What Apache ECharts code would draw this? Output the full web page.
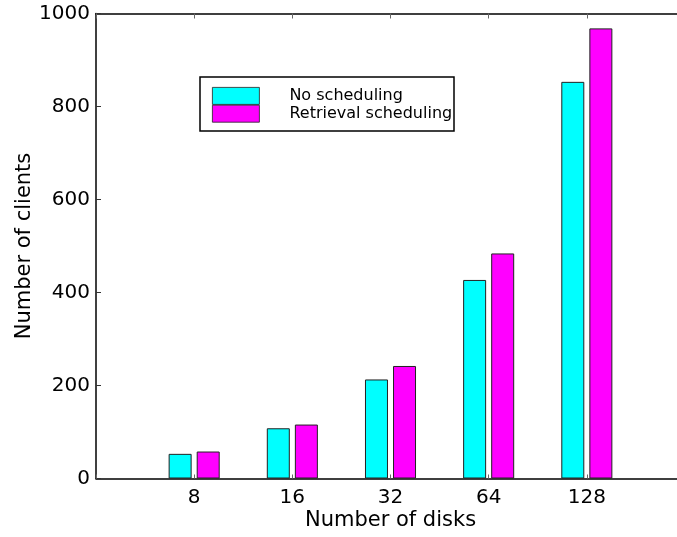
<!DOCTYPE html>
<html>
<head>
<meta charset="utf-8">
<script src="https://cdn.jsdelivr.net/npm/echarts@6/dist/echarts.min.js"></script>
<style>
html,body{margin:0;padding:0;background:#fff;}
#chart{width:677px;height:537px;}
</style>
</head>
<body>
<div id="chart"></div>
<script>
// Data
const diskLabels = ['8', '16', '32', '64', '128'];
const noScheduling = [53, 108, 213, 427, 853];
const retrievalScheduling = [58, 116, 242, 484, 968];
const seriesNames = ['No scheduling', 'Retrieval scheduling'];
const yTicks = [0, 200, 400, 600, 800, 1000];

const FONT = 'DejaVu Sans';
const chart = echarts.init(document.getElementById('chart'), null, {renderer: 'canvas'});

function toPoints(arr) {
  return arr.map((v, i) => [i + 1, v]);
}

const xLabelFormatter = v => {
  const idx = Math.round(v) - 1;
  return (idx >= 0 && idx < diskLabels.length) ? diskLabels[idx] : '';
};

const option = {
  animation: false,
  backgroundColor: '#fff',
  grid: {left: 96, top: 13.5, width: 589, height: 465, containLabel: false, outerBoundsMode: 'none'},
  graphic: [{
    type: 'rect',
    z: 10,
    shape: {x: 200, y: 77, width: 254, height: 54},
    style: {fill: '#fff', stroke: '#000', lineWidth: 1.5}
  }],
  legend: {
    orient: 'vertical',
    left: 212,
    top: 87,
    padding: 0,
    itemGap: 0,
    itemWidth: 47,
    itemHeight: 17,
    icon: 'rect',
    z: 20,
    selectedMode: false,
    data: seriesNames,
    itemStyle: {borderWidth: 0.8},
    textStyle: {fontFamily: FONT, fontSize: 16, color: '#000', padding: [0, 0, 0, 25]}
  },
  xAxis: [{
    type: 'value',
    min: 0, max: diskLabels.length + 1, interval: 1,
    position: 'bottom',
    name: 'Number of disks',
    nameLocation: 'middle',
    nameGap: 32,
    nameMoveOverlap: false,
    nameTextStyle: {fontFamily: FONT, fontSize: 21, color: '#000', verticalAlign: 'top'},
    axisLine: {show: true, lineStyle: {color: '#000', width: 1.5}},
    axisTick: {show: true, inside: true, length: 4, lineStyle: {color: '#666', width: 1}},
    axisLabel: {fontFamily: FONT, fontSize: 20, color: '#000', margin: 9, formatter: xLabelFormatter},
    splitLine: {show: false}
  }, {
    type: 'value',
    min: 0, max: diskLabels.length + 1, interval: 1,
    position: 'top',
    axisLine: {show: true, lineStyle: {color: '#000', width: 1.5}},
    axisTick: {show: true, inside: true, length: 5, lineStyle: {color: '#666', width: 1}},
    axisLabel: {show: false},
    splitLine: {show: false}
  }],
  yAxis: {
    type: 'value',
    min: yTicks[0], max: yTicks[yTicks.length - 1], interval: yTicks[1] - yTicks[0],
    name: 'Number of clients',
    nameLocation: 'middle',
    nameGap: 61,
    nameMoveOverlap: false,
    nameTextStyle: {fontFamily: FONT, fontSize: 21, color: '#000'},
    axisLine: {show: true, lineStyle: {color: '#000', width: 1.5}},
    axisTick: {show: true, inside: true, length: 5, lineStyle: {color: '#333', width: 1}},
    axisLabel: {fontFamily: FONT, fontSize: 20, color: '#000', margin: 6, formatter: v => String(v)},
    splitLine: {show: false}
  },
  series: [{
    name: seriesNames[0],
    type: 'bar',
    xAxisIndex: 0,
    barWidth: 23,
    barGap: '22%',
    itemStyle: {color: '#00ffff', borderColor: '#222', borderWidth: 1},
    data: toPoints(noScheduling)
  }, {
    name: seriesNames[1],
    type: 'bar',
    xAxisIndex: 0,
    barWidth: 23,
    barGap: '22%',
    itemStyle: {color: '#ff00ff', borderColor: '#222', borderWidth: 1},
    data: toPoints(retrievalScheduling)
  }]
};
chart.setOption(option);
</script>
</body>
</html>
